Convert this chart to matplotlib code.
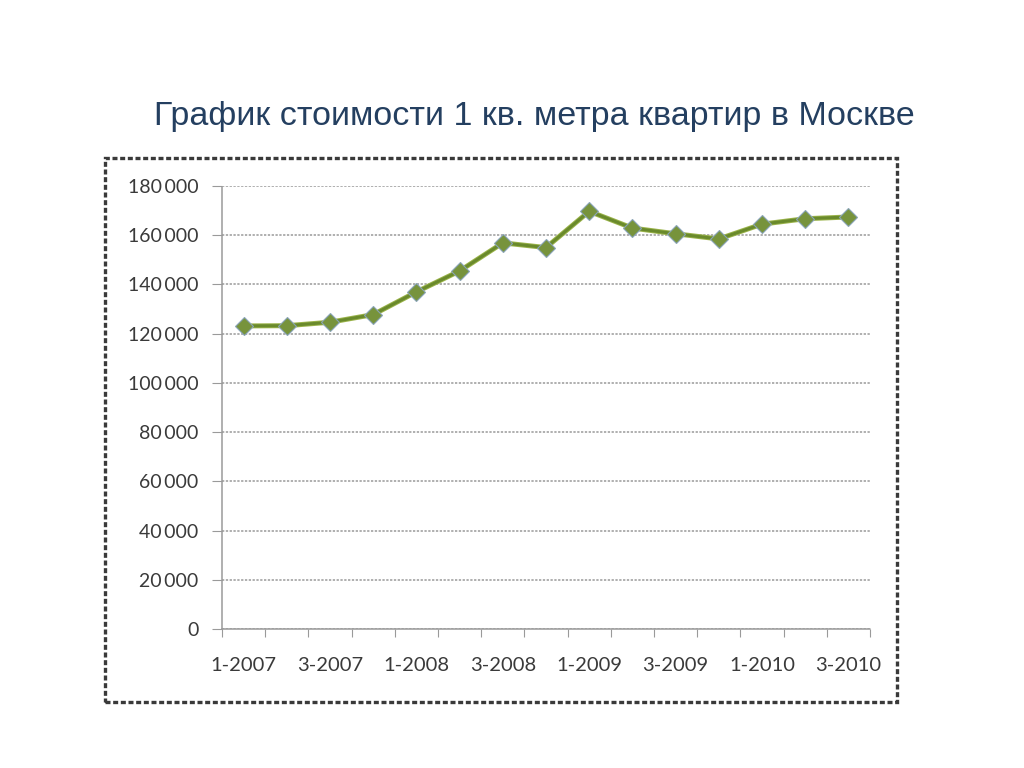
import numpy as np
import matplotlib
matplotlib.use("Agg")
import matplotlib.pyplot as plt
from matplotlib.patches import Rectangle
from matplotlib.ticker import FuncFormatter

TITLE = "График стоимости 1 кв. метра квартир в Москве"

quarters = ["1-2007", "2-2007", "3-2007", "4-2007",
            "1-2008", "2-2008", "3-2008", "4-2008",
            "1-2009", "2-2009", "3-2009", "4-2009",
            "1-2010", "2-2010", "3-2010"]
price = [123100, 123200, 124600, 127700, 136900, 145400, 156800, 154900,
         169600, 162800, 160500, 158400, 164400, 166600, 167300]
yticks = [0, 20000, 40000, 60000, 80000, 100000, 120000, 140000, 160000, 180000]

fig = plt.figure(figsize=(10.24, 7.68), dpi=100)
W, H = 1024, 768

# chart box with dashed border
fig.patches.append(Rectangle((105 / W, 1 - 702 / H), 792 / W, 544 / H,
                             transform=fig.transFigure, fill=False,
                             ec="#3a3a3a", lw=2.4, ls=(0, (1.5, 0.8))))

fig.text(534 / W, 1 - 116 / H, TITLE, ha="center", va="center",
         fontsize=24.5, color="#243f60", family="Liberation Sans")

ax = fig.add_axes([222 / W, 1 - 629.3 / H, 648 / W, (629.3 - 185.7) / H])
x = np.arange(len(quarters))
ax.plot(x, price, color="#9ab34a", lw=3.6, zorder=2)
ax.plot(x, price, color="#6a8a2c", lw=2.2, marker="D", ms=9.5,
        mfc="#77933c", mec="#8aa4b8", mew=0.8, zorder=3)

ax.set_xlim(-0.5, len(quarters) - 0.5)
ax.set_ylim(0, 180000)

grid_kw = dict(color="#9a9a9a", lw=1.1, ls=(0, (1.5, 1)))
ax.set_yticks(yticks)
ax.yaxis.set_major_formatter(FuncFormatter(lambda v, p: f"{int(v):,}".replace(",", "\u2009")))
ax.grid(axis="y", **grid_kw)
ax.tick_params(axis="y", length=7, color="#9a9a9a", pad=10, labelsize=14,
               labelcolor="#3a3a3a")

# boundary ticks between categories, labels on every other quarter
ax.set_xticks(np.arange(-0.5, len(quarters), 1))
ax.set_xticklabels([])
ax.set_xticks(x[::2], minor=True)
ax.set_xticklabels(quarters[::2], minor=True)
ax.tick_params(axis="x", which="major", length=6, color="#9a9a9a")
ax.tick_params(axis="x", which="minor", length=0, pad=20, labelsize=14.5,
               labelcolor="#3a3a3a")

for lab in ax.get_yticklabels() + ax.get_xticklabels(minor=True):
    lab.set_family(["Lato", "DejaVu Sans"])

for s in ["top", "right"]:
    ax.spines[s].set_visible(False)
for s in ["left", "bottom"]:
    ax.spines[s].set_color("#9a9a9a")
    ax.spines[s].set_linestyle((0, (1.5, 1)))
    ax.spines[s].set_linewidth(1.1)

fig.savefig("out.png", dpi=100)
